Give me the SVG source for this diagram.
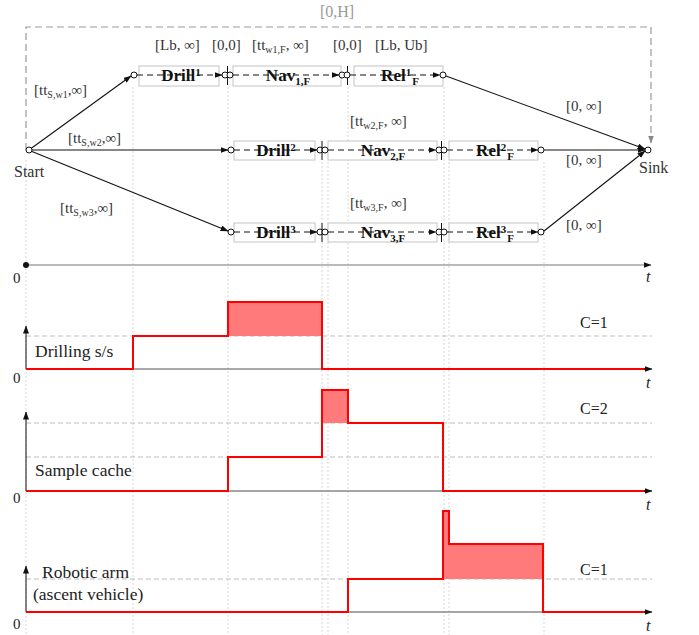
<svg xmlns="http://www.w3.org/2000/svg" width="699" height="635" viewBox="0 0 699 635">
<style>
  text { font-family: "Liberation Serif", "DejaVu Serif", serif; fill: #222; }
  .lbl { font-size: 15px; fill: #333; }
  .sub { font-size: 10px; }
  .task { font-size: 17px; font-weight: bold; text-anchor: middle; fill: #111; }
  .tsub { font-size: 11px; }
  .box { fill: #fff; stroke: #c4c4c4; stroke-width: 1; }
  .flow { stroke: #111; stroke-width: 1; stroke-dasharray: 6,4; fill: none; }
  .node { fill: #fff; stroke: #111; stroke-width: 1; }
  .bar { stroke: #111; stroke-width: 1; }
  .edge { stroke: #111; stroke-width: 1.1; fill: none; }
  .grid { stroke: #d6d6d6; stroke-width: 1; stroke-dasharray: 2,2; }
  .cap { stroke: #bdbdbd; stroke-width: 1; stroke-dasharray: 5,3; }
  .load { stroke: #f00; stroke-width: 2; fill: none; }
  .over { fill: #ff7b7b; stroke: none; }
  .axis { stroke: #111; stroke-width: 1; fill: none; }
  .name { font-size: 17.5px; }
  .cval { font-size: 16px; }
  .zero { font-size: 15px; }
  .tvar { font-size: 16px; font-style: italic; }
</style>
<defs>
  <marker id="ah" markerWidth="8" markerHeight="6" refX="7.5" refY="3" orient="auto" markerUnits="userSpaceOnUse">
    <path d="M0,0 L8,3 L0,6 Z" fill="#111"/>
  </marker>
  <marker id="ahg" markerWidth="8" markerHeight="6" refX="7.5" refY="3" orient="auto" markerUnits="userSpaceOnUse">
    <path d="M0,0 L8,3 L0,6 Z" fill="#888"/>
  </marker>
</defs>

<!-- vertical time guides -->
<g id="guides">
  <line class="grid" x1="26" y1="160" x2="26" y2="635"/>
  <line class="grid" x1="133" y1="87" x2="133" y2="635"/>
  <line class="grid" x1="228" y1="87" x2="228" y2="635"/>
  <line class="grid" x1="322" y1="162" x2="322" y2="635"/>
  <line class="grid" x1="328" y1="162" x2="328" y2="635"/>
  <line class="grid" x1="348" y1="87" x2="348" y2="635"/>
  <line class="grid" x1="444" y1="87" x2="444" y2="635"/>
  <line class="grid" x1="449" y1="162" x2="449" y2="635"/>
  <line class="grid" x1="544" y1="162" x2="544" y2="635"/>
</g>

<!-- horizon constraint -->
<g id="horizon">
  <path d="M26,150 V27 H651 V143" fill="none" stroke="#999" stroke-width="1.2" stroke-dasharray="7,4" marker-end="url(#ahg)"/>
  <text x="337" y="17" text-anchor="middle" style="font-size:16px;fill:#999">[0,H]</text>
</g>

<!-- connectors -->
<g id="connectors">
  <line class="edge" x1="31" y1="148.5" x2="131" y2="76" marker-end="url(#ah)"/>
  <line class="edge" x1="32" y1="150" x2="228" y2="150" marker-end="url(#ah)"/>
  <line class="edge" x1="32" y1="151.5" x2="228" y2="231" marker-end="url(#ah)"/>
  <line class="edge" x1="446" y1="76" x2="645" y2="149" marker-end="url(#ah)"/>
  <line class="edge" x1="544" y1="150" x2="645" y2="150" marker-end="url(#ah)"/>
  <line class="edge" x1="544" y1="231" x2="645" y2="151" marker-end="url(#ah)"/>
</g>

<!-- start / sink -->
<g id="start">
  <circle class="node" cx="29" cy="150" r="3"/>
  <text x="14" y="177" class="lbl" style="font-size:16px">Start</text>
</g>
<g id="sink">
  <circle class="node" cx="648" cy="150" r="3"/>
  <text x="639" y="173" class="lbl" style="font-size:16px">Sink</text>
</g>

<!-- row 1 -->
<g id="drill1">
  <rect class="box" x="139" y="66" width="80" height="20"/>
  <text class="task" x="181" y="81">Drill<tspan class="tsub" dy="-5">1</tspan></text>
  <circle class="node" cx="134" cy="75" r="3"/>
  <line class="flow" x1="137" y1="75" x2="222" y2="75" marker-end="url(#ah)"/>
</g>
<g id="nav1">
  <rect class="box" x="233" y="66" width="108" height="20"/>
  <text class="task" x="288" y="81">Nav<tspan class="tsub" dy="4">1,F</tspan></text>
  <circle class="node" cx="225" cy="75" r="3"/>
  <line class="bar" x1="227.5" y1="66" x2="227.5" y2="85"/>
  <circle class="node" cx="230" cy="75" r="3"/>
  <line class="flow" x1="233" y1="75" x2="339" y2="75" marker-end="url(#ah)"/>
</g>
<g id="rel1">
  <rect class="box" x="354" y="66" width="89" height="20"/>
  <text class="task" x="400" y="81">Rel<tspan class="tsub" dy="-5">1</tspan><tspan class="tsub" dx="1" dy="9">F</tspan></text>
  <circle class="node" cx="342" cy="75" r="3"/>
  <line class="bar" x1="347.5" y1="66" x2="347.5" y2="85"/>
  <circle class="node" cx="347" cy="75" r="3"/>
  <line class="flow" x1="350" y1="75" x2="440" y2="75" marker-end="url(#ah)"/>
  <circle class="node" cx="443" cy="75" r="3"/>
</g>

<!-- row 2 -->
<g id="drill2">
  <rect class="box" x="234" y="141" width="81" height="19"/>
  <text class="task" x="276" y="156">Drill<tspan class="tsub" dy="-5">2</tspan></text>
  <circle class="node" cx="231" cy="150" r="3"/>
  <line class="flow" x1="234" y1="150" x2="317" y2="150" marker-end="url(#ah)"/>
</g>
<g id="nav2">
  <rect class="box" x="328" y="141" width="109" height="19"/>
  <text class="task" x="383" y="156">Nav<tspan class="tsub" dy="4">2,F</tspan></text>
  <circle class="node" cx="320" cy="150" r="3"/>
  <line class="bar" x1="322" y1="141" x2="322" y2="160"/>
  <circle class="node" cx="325" cy="150" r="3"/>
  <line class="flow" x1="328" y1="150" x2="436" y2="150" marker-end="url(#ah)"/>
</g>
<g id="rel2">
  <rect class="box" x="449" y="141" width="89" height="19"/>
  <text class="task" x="495" y="156">Rel<tspan class="tsub" dy="-5">2</tspan><tspan class="tsub" dx="1" dy="9">F</tspan></text>
  <circle class="node" cx="439" cy="150" r="3"/>
  <line class="bar" x1="441.5" y1="141" x2="441.5" y2="160"/>
  <circle class="node" cx="444" cy="150" r="3"/>
  <line class="flow" x1="447" y1="150" x2="538" y2="150" marker-end="url(#ah)"/>
  <circle class="node" cx="541" cy="150" r="3"/>
</g>

<!-- row 3 -->
<g id="drill3">
  <rect class="box" x="234" y="223" width="81" height="19"/>
  <text class="task" x="276" y="238">Drill<tspan class="tsub" dy="-5">3</tspan></text>
  <circle class="node" cx="231" cy="232" r="3"/>
  <line class="flow" x1="234" y1="232" x2="317" y2="232" marker-end="url(#ah)"/>
</g>
<g id="nav3">
  <rect class="box" x="328" y="223" width="109" height="19"/>
  <text class="task" x="383" y="238">Nav<tspan class="tsub" dy="4">3,F</tspan></text>
  <circle class="node" cx="320" cy="232" r="3"/>
  <line class="bar" x1="322" y1="223" x2="322" y2="242"/>
  <circle class="node" cx="325" cy="232" r="3"/>
  <line class="flow" x1="328" y1="232" x2="436" y2="232" marker-end="url(#ah)"/>
</g>
<g id="rel3">
  <rect class="box" x="449" y="223" width="89" height="19"/>
  <text class="task" x="495" y="238">Rel<tspan class="tsub" dy="-5">3</tspan><tspan class="tsub" dx="1" dy="9">F</tspan></text>
  <circle class="node" cx="439" cy="232" r="3"/>
  <line class="bar" x1="441.5" y1="223" x2="441.5" y2="242"/>
  <circle class="node" cx="444" cy="232" r="3"/>
  <line class="flow" x1="447" y1="232" x2="538" y2="232" marker-end="url(#ah)"/>
  <circle class="node" cx="541" cy="232" r="3"/>
</g>

<!-- temporal constraint labels -->
<g id="bounds">
  <text x="155" y="50" class="lbl">[Lb, ∞]</text>
  <text x="212" y="50" class="lbl">[0,0]</text>
  <text x="252" y="50" class="lbl">[tt<tspan class="sub" dy="3">w1,F</tspan><tspan dy="-3">, ∞]</tspan></text>
  <text x="333" y="50" class="lbl">[0,0]</text>
  <text x="375" y="50" class="lbl">[Lb, Ub]</text>
  <text x="34" y="95" class="lbl">[tt<tspan class="sub" dy="3">S,w1</tspan><tspan dy="-3">,∞]</tspan></text>
  <text x="68" y="143" class="lbl">[tt<tspan class="sub" dy="3">S,w2</tspan><tspan dy="-3">,∞]</tspan></text>
  <text x="60" y="213" class="lbl">[tt<tspan class="sub" dy="3">S,w3</tspan><tspan dy="-3">,∞]</tspan></text>
  <text x="350" y="126" class="lbl">[tt<tspan class="sub" dy="3">w2,F</tspan><tspan dy="-3">, ∞]</tspan></text>
  <text x="350" y="208" class="lbl">[tt<tspan class="sub" dy="3">w3,F</tspan><tspan dy="-3">, ∞]</tspan></text>
  <text x="566" y="111" class="lbl">[0, ∞]</text>
  <text x="566" y="165" class="lbl">[0, ∞]</text>
  <text x="566" y="230" class="lbl">[0, ∞]</text>
</g>

<!-- time axis -->
<g id="timeline">
  <line x1="26" y1="265" x2="651" y2="265" stroke="#777" stroke-width="1.2" marker-end="url(#ah)"/>
  <circle cx="26" cy="265" r="3" fill="#111"/>
  <text x="13" y="283" class="zero">0</text>
  <text x="646" y="282" class="tvar">t</text>
</g>

<!-- resource: drilling subsystem -->
<g id="drilling">
  <line class="cap" x1="26" y1="336" x2="652" y2="336"/>
  <rect class="over" x="228" y="302" width="94" height="34"/>
  <line x1="133" y1="369" x2="322" y2="369" stroke="#555" stroke-width="1"/>
  <line class="axis" x1="26" y1="369" x2="26" y2="326" marker-end="url(#ah)"/>
  <polyline class="load" points="26,369 133,369 133,336 228,336 228,302 322,302 322,369 645,369"/>
  <line x1="644" y1="369" x2="652" y2="369" stroke="#111" stroke-width="1" marker-end="url(#ah)"/>
  <text x="35" y="357" class="name">Drilling s/s</text>
  <text x="580" y="328" class="cval">C=1</text>
  <text x="13" y="383" class="zero">0</text>
  <text x="646" y="388" class="tvar">t</text>
</g>

<!-- resource: sample cache -->
<g id="cache">
  <line class="cap" x1="26" y1="423" x2="652" y2="423"/>
  <line class="cap" x1="26" y1="457" x2="652" y2="457"/>
  <rect class="over" x="322" y="390" width="26" height="33"/>
  <line x1="228" y1="491" x2="443" y2="491" stroke="#888" stroke-width="1.5"/>
  <line class="axis" x1="26" y1="491" x2="26" y2="412" marker-end="url(#ah)"/>
  <polyline class="load" points="26,491 228,491 228,457 322,457 322,390 348,390 348,423 443,423 443,491 645,491"/>
  <line x1="644" y1="491" x2="652" y2="491" stroke="#111" stroke-width="1" marker-end="url(#ah)"/>
  <text x="35" y="476" class="name">Sample cache</text>
  <text x="580" y="414" class="cval">C=2</text>
  <text x="13" y="503" class="zero">0</text>
  <text x="646" y="510" class="tvar">t</text>
</g>

<!-- resource: robotic arm -->
<g id="arm">
  <line class="cap" x1="26" y1="579" x2="652" y2="579"/>
  <rect class="over" x="443" y="511" width="6" height="68"/>
  <rect class="over" x="449" y="544" width="94" height="35"/>
  <line x1="348" y1="612" x2="543" y2="612" stroke="#888" stroke-width="1.5"/>
  <line class="axis" x1="26" y1="612" x2="26" y2="566" marker-end="url(#ah)"/>
  <polyline class="load" points="26,612 348,612 348,579 443,579 443,511 449,511 449,544 543,544 543,612 645,612"/>
  <line x1="644" y1="612" x2="652" y2="612" stroke="#111" stroke-width="1" marker-end="url(#ah)"/>
  <text x="42" y="578" class="name">Robotic  arm</text>
  <text x="33" y="600" class="name">(ascent vehicle)</text>
  <text x="580" y="575" class="cval">C=1</text>
  <text x="13" y="629" class="zero">0</text>
  <text x="646" y="631" class="tvar">t</text>
</g>
</svg>
